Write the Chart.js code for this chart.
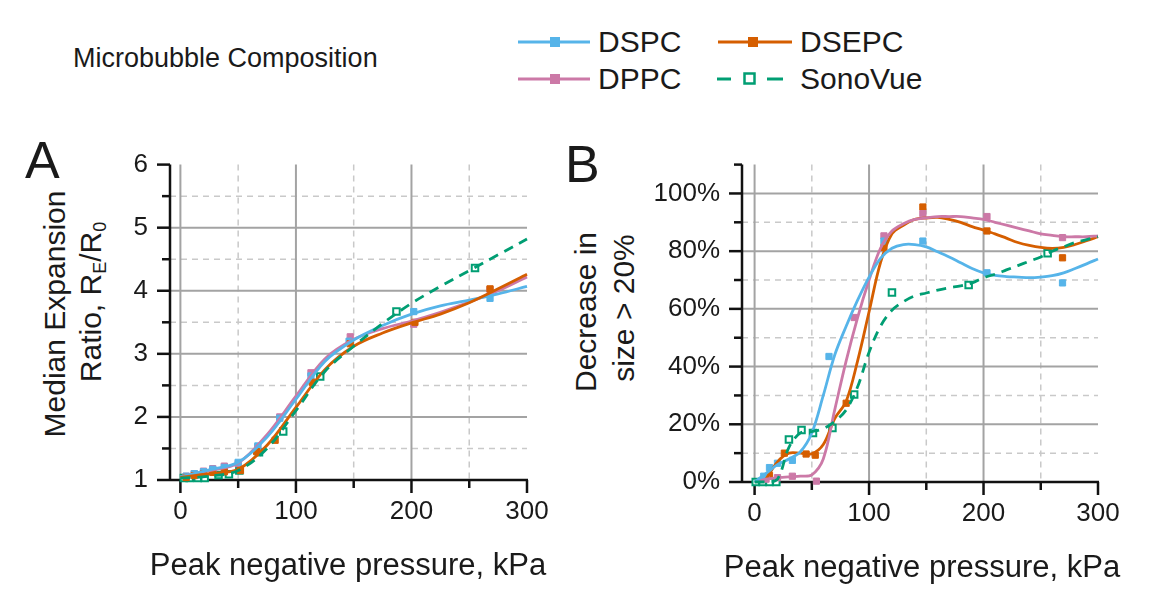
<!DOCTYPE html>
<html>
<head>
<meta charset="utf-8">
<script src="https://cdn.jsdelivr.net/npm/chart.js@4.4.1/dist/chart.umd.min.js"></script>
<style>
  body { margin: 0; width: 1166px; height: 592px; background: #fff; position: relative; overflow: hidden;
         font-family: "Liberation Sans", Arial, sans-serif; color: #1a1a1a; }
  .wrap { position: absolute; top: 140px; height: 452px; }
  #wrapA { left: 0; width: 560px; }
  #wrapB { left: 560px; width: 606px; }
  .ytitle { position: absolute; font-size: 30px; line-height: 1; white-space: nowrap;
            transform: translate(-50%, -50%) rotate(-90deg); }
  .ytitle sub { font-size: 0.6em; vertical-align: -0.25em; line-height: 0; }
  .xtitle { position: absolute; font-size: 31px; line-height: 1; white-space: nowrap;
            transform: translate(-50%, -50%); }
  .panel { position: absolute; font-size: 52px; line-height: 1; }
  .leg { position: absolute; height: 36px; display: flex; align-items: center; font-size: 30px; white-space: nowrap; }
  .leg svg { margin-right: 8px; }
</style>
</head>
<body>
<div style="position:absolute;left:73px;top:42px;font-size:27px;line-height:32px;">Microbubble Composition</div>

<div class="leg" style="left:518px;top:24px;">
  <svg width="72" height="20"><line x1="0" y1="10" x2="72" y2="10" stroke="#56B4E9" stroke-width="3"/><rect x="32" y="5" width="10" height="10" fill="#56B4E9"/></svg>DSPC</div>
<div class="leg" style="left:718px;top:24px;">
  <svg width="74" height="20"><line x1="0" y1="10" x2="74" y2="10" stroke="#D55E00" stroke-width="3"/><rect x="30" y="5" width="10" height="10" fill="#D55E00"/></svg>DSEPC</div>
<div class="leg" style="left:518px;top:61px;">
  <svg width="72" height="20"><line x1="0" y1="10" x2="72" y2="10" stroke="#CC79A7" stroke-width="3"/><rect x="32" y="5" width="10" height="10" fill="#CC79A7"/></svg>DPPC</div>
<div class="leg" style="left:717px;top:61px;">
  <svg width="75" height="20"><line x1="0" y1="10" x2="14" y2="10" stroke="#009E73" stroke-width="3"/><rect x="27.5" y="4.5" width="10" height="10" fill="#fff" stroke="#009E73" stroke-width="2.5"/><line x1="50" y1="10" x2="66" y2="10" stroke="#009E73" stroke-width="3"/></svg>SonoVue</div>

<div class="panel" style="left:25px;top:134px;">A</div>
<div class="panel" style="left:565px;top:138px;">B</div>

<div class="ytitle" style="left:55px;top:314px;">Median Expansion</div>
<div class="ytitle" style="left:91px;top:302px;">Ratio, R<sub>E</sub>/R<sub>0</sub></div>
<div class="ytitle" style="left:586px;top:312px;">Decrease in</div>
<div class="ytitle" style="left:624px;top:308px;">size &gt; 20%</div>

<div class="wrap" id="wrapA"><canvas id="chartA" width="560" height="452"></canvas></div>
<div class="wrap" id="wrapB"><canvas id="chartB" width="606" height="452"></canvas></div>

<div class="xtitle" style="left:348px;top:564px;">Peak negative pressure, kPa</div>
<div class="xtitle" style="left:922px;top:566px;">Peak negative pressure, kPa</div>

<script>
// ticks / grid values
const xMajorTicks = [0, 100, 200, 300];
const xMinorTicks = [50, 150, 250];
const yMajorTicksA = [1, 2, 3, 4, 5, 6];
const yMinorTicksA = [1.5, 2.5, 3.5, 4.5, 5.5];
const yMajorTicksB = [0, 20, 40, 60, 80, 100];
const yMinorTicksB = [10, 30, 50, 70, 90, 110];

// Panel A: measured points (x = kPa, y = R_E/R_0)
const dspcAx = [5, 12, 20, 28, 38, 50, 67, 86, 113, 146, 202, 268];
const dspcAy = [1.06, 1.1, 1.13, 1.17, 1.2, 1.28, 1.54, 1.98, 2.65, 3.2, 3.67, 3.88];
const dppcAx = [5, 12, 20, 28, 38, 50, 67, 86, 113, 147, 202, 268];
const dppcAy = [1.06, 1.1, 1.14, 1.18, 1.22, 1.26, 1.52, 2.0, 2.7, 3.27, 3.47, 4.02];
const dsepcAx = [5, 12, 20, 28, 38, 52, 66, 82, 114, 147, 203, 268];
const dsepcAy = [1.04, 1.07, 1.1, 1.12, 1.13, 1.15, 1.45, 1.63, 2.55, 3.16, 3.5, 4.03];
const sonoAx = [3, 8, 15, 21, 33, 42, 51, 68, 89, 121, 187, 255];
const sonoAy = [1.03, 1.03, 1.03, 1.03, 1.08, 1.09, 1.15, 1.44, 1.77, 2.64, 3.67, 4.36];

// Panel A: fitted curves
const fitAx = [0, 25, 50, 75, 100, 125, 150, 175, 200, 225, 250, 275, 300];
const dspcAfit = [1.05, 1.16, 1.28, 1.68, 2.28, 2.88, 3.22, 3.45, 3.63, 3.76, 3.85, 3.95, 4.07];
const dppcAfit = [1.05, 1.15, 1.27, 1.72, 2.33, 2.92, 3.23, 3.4, 3.52, 3.66, 3.82, 4.0, 4.22];
const dsepcAfit = [1.04, 1.1, 1.17, 1.55, 2.15, 2.75, 3.12, 3.33, 3.49, 3.63, 3.81, 4.03, 4.26];
const sonoAfit = [1.03, 1.06, 1.15, 1.5, 2.1, 2.72, 3.12, 3.48, 3.8, 4.07, 4.32, 4.57, 4.82];

// Panel B: measured points (x = kPa, y = %)
const dspcBx = [8, 13, 20, 33, 65, 113, 147, 203, 269];
const dspcBy = [2, 5, 6.5, 7.5, 43.5, 83.5, 83.5, 72.5, 69];
const dppcBx = [10, 20, 33, 54, 87, 113, 147, 203, 269];
const dppcBy = [1, 1.5, 2, 0.3, 57, 85.3, 93, 92, 84.7];
const dsepcBx = [13, 26, 45, 53, 80, 113, 147, 203, 269];
const dsepcBy = [2.3, 10, 9.7, 9.3, 27.3, 81.3, 95.3, 87, 77.7];
const sonoBx = [1, 7, 13, 19, 30, 41, 51, 68, 87, 120, 187, 256];
const sonoBy = [0, 0, 0, 0, 14.7, 18, 17, 18.7, 30.3, 65.7, 68.3, 79.3];

// Panel B: fitted curves
const fitBx = [0, 10, 20, 30, 40, 50, 60, 70, 80, 90, 100, 110, 120, 130, 140, 150,
               160, 170, 180, 190, 200, 210, 220, 230, 240, 250, 260, 270, 280, 290, 300];
const dspcBfit = [0, 3, 6, 8, 10.5, 17, 30, 44, 54, 63, 71, 77.5, 81, 82.3, 82.3, 81.5,
                  79.8, 78, 76, 74, 72.5, 71.6, 71.2, 71, 70.8, 71, 71.5, 72.5, 74, 75.6, 77.3];
const dppcBfit = [0, 1, 1.5, 1.8, 2, 2.5, 8, 25, 42, 57, 70, 81, 87, 89.5, 91, 91.5,
                  92, 92, 92, 91.5, 91, 90, 89, 88, 87, 86, 85.5, 85, 85, 85, 85.3];
const dsepcBfit = [null, 1, 7, 10, 10, 9.8, 13, 22, 28, 42, 59, 76, 86, 89, 91, 91.5,
                   91.7, 91, 90, 88.5, 87.3, 86, 84.5, 83, 82, 81.3, 81, 81.3, 82.3, 83.6, 85];
const sonoBfit = [0, 0, 1, 12, 17, 17.5, 18.5, 21, 25, 33, 45, 54, 59.5, 62.5, 64.5, 65.5,
                  66.5, 67.3, 68, 69, 70.8, 72, 73.5, 75, 76.5, 78, 80, 81.5, 83, 84, 85];

const BLUE = '#56B4E9', ORANGE = '#D55E00', PINK = '#CC79A7', GREEN = '#009E73';
const FONT = '"Liberation Sans", Arial, sans-serif';
const INK = '#1a1a1a';

function pts(xs, ys) { return xs.map((x, i) => ({ x: x, y: ys[i] })); }

function fitLine(xs, ys, color, dashed) {
  return {
    data: pts(xs, ys), borderColor: color, borderWidth: 2.8, pointRadius: 0,
    tension: 0.35, fill: false, clip: false, borderDash: dashed ? [10, 7] : []
  };
}
function markers(xs, ys, color, open) {
  return {
    data: pts(xs, ys), showLine: false, pointStyle: 'rect', clip: false,
    pointRadius: open ? 4.6 : 4.4, borderWidth: open ? 2 : 1,
    pointBackgroundColor: open ? '#fff' : color, pointBorderColor: color
  };
}

// grid lines, axis lines and tick marks
const decorPlugin = {
  id: 'decor',
  beforeDatasetsDraw(chart, args, o) {
    const ctx = chart.ctx, a = chart.chartArea;
    const x = chart.scales.x, y = chart.scales.y;
    const seg = (x1, y1, x2, y2) => { ctx.beginPath(); ctx.moveTo(x1, y1); ctx.lineTo(x2, y2); ctx.stroke(); };
    const inX = p => p > a.left + 1 && p < a.right - 1;
    const inY = p => p > a.top + 1 && p < a.bottom - 1;
    ctx.save();
    ctx.strokeStyle = '#c9c9c9'; ctx.lineWidth = 1.5; ctx.setLineDash([6, 5]);
    o.xMinor.forEach(v => { const p = x.getPixelForValue(v); if (inX(p)) seg(p, a.top, p, a.bottom); });
    o.yMinor.forEach(v => { const p = y.getPixelForValue(v); if (inY(p)) seg(a.left, p, a.right, p); });
    ctx.setLineDash([]); ctx.strokeStyle = '#a3a3a3'; ctx.lineWidth = 2;
    o.xMajor.forEach(v => { const p = x.getPixelForValue(v); if (inX(p)) seg(p, a.top, p, a.bottom); });
    o.yMajor.forEach(v => { const p = y.getPixelForValue(v); if (inY(p)) seg(a.left, p, a.right, p); });
    ctx.strokeStyle = '#111'; ctx.lineWidth = 2.5;
    seg(a.left, a.top, a.left, a.bottom + 1);
    seg(a.left, a.bottom, a.right + 1, a.bottom);
    o.xMajor.forEach(v => { const p = x.getPixelForValue(v); seg(p, a.bottom, p, a.bottom + 13); });
    o.xMinor.forEach(v => { const p = x.getPixelForValue(v); seg(p, a.bottom, p, a.bottom + 8); });
    o.yMajor.forEach(v => { const p = y.getPixelForValue(v); seg(a.left - 13, p, a.left, p); });
    o.yMinor.forEach(v => { const p = y.getPixelForValue(v); seg(a.left - 8, p, a.left, p); });
    ctx.restore();
  }
};

function makeChart(id, cfg) {
  return new Chart(document.getElementById(id), {
    type: 'line',
    data: { datasets: cfg.datasets },
    plugins: [decorPlugin],
    options: {
      responsive: false, animation: false, devicePixelRatio: 1,
      layout: { padding: { top: 12, right: cfg.padRight, left: 0, bottom: 0 } },
      plugins: {
        legend: { display: false }, tooltip: { enabled: false },
        decor: { xMajor: xMajorTicks, xMinor: xMinorTicks, yMajor: cfg.yMajor, yMinor: cfg.yMinor }
      },
      scales: {
        x: {
          type: 'linear', min: cfg.xMin, max: 300,
          afterBuildTicks: s => { s.ticks = xMajorTicks.map(v => ({ value: v })); },
          afterFit: s => { s.height = cfg.xHeight; },
          grid: { display: false, drawTicks: true, tickLength: 13 },
          border: { display: false },
          ticks: { font: { size: 26, family: FONT }, color: INK, padding: 3, maxRotation: 0, autoSkip: false }
        },
        y: {
          type: 'linear', min: cfg.yMin, max: cfg.yMax,
          afterBuildTicks: s => { s.ticks = cfg.yMajor.map(v => ({ value: v })); },
          afterFit: s => { s.width = cfg.yWidth; },
          grid: { display: false, drawTicks: true, tickLength: 13 },
          border: { display: false },
          ticks: { font: { size: 26, family: FONT }, color: INK, padding: 9, autoSkip: false,
                   callback: cfg.yFormat }
        }
      }
    }
  });
}

makeChart('chartA', {
  xMin: -9, yMin: 1, yMax: 6, yMajor: yMajorTicksA, yMinor: yMinorTicksA,
  yWidth: 170, xHeight: 112, padRight: 33,
  yFormat: v => String(v),
  datasets: [
    fitLine(fitAx, sonoAfit, GREEN, true),
    fitLine(fitAx, dsepcAfit, ORANGE),
    fitLine(fitAx, dspcAfit, BLUE),
    fitLine(fitAx, dppcAfit, PINK),
    markers(dsepcAx, dsepcAy, ORANGE),
    markers(dspcAx, dspcAy, BLUE),
    markers(dppcAx, dppcAy, PINK),
    markers(sonoAx, sonoAy, GREEN, true)
  ]
});

makeChart('chartB', {
  xMin: -11, yMin: 0, yMax: 110, yMajor: yMajorTicksB, yMinor: yMinorTicksB,
  yWidth: 182, xHeight: 110, padRight: 68,
  yFormat: v => v + '%',
  datasets: [
    fitLine(fitBx, sonoBfit, GREEN, true),
    fitLine(fitBx, dspcBfit, BLUE),
    fitLine(fitBx, dppcBfit, PINK),
    fitLine(fitBx, dsepcBfit, ORANGE),
    markers(dspcBx, dspcBy, BLUE),
    markers(dppcBx, dppcBy, PINK),
    markers(dsepcBx, dsepcBy, ORANGE),
    markers(sonoBx, sonoBy, GREEN, true)
  ]
});
</script>
</body>
</html>
